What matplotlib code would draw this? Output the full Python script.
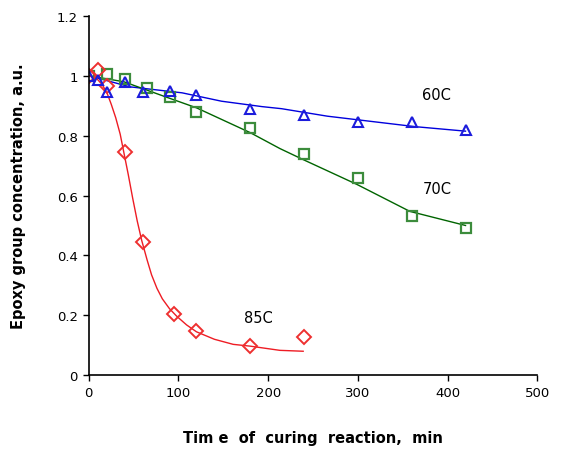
import matplotlib
matplotlib.use("Agg")
import matplotlib.pyplot as plt
from matplotlib.ticker import FuncFormatter

# measured points
t60 = [0, 10, 20, 40, 60, 90, 120, 180, 240, 300, 360, 420]
c60 = [1.0, 0.985, 0.945, 0.98, 0.945, 0.95, 0.935, 0.89, 0.87, 0.845, 0.845, 0.82]

t70 = [0, 20, 40, 65, 90, 120, 180, 240, 300, 360, 420]
c70 = [1.0, 1.007, 0.99, 0.96, 0.93, 0.88, 0.825, 0.74, 0.66, 0.53, 0.49]

t85 = [0, 10, 20, 40, 60, 95, 120, 180, 240]
c85 = [1.0, 1.02, 0.965, 0.745, 0.445, 0.205, 0.148, 0.097, 0.127]

# trend lines
fit60_t = [0, 46, 104, 148, 193, 215, 266, 364, 420]
fit60_c = [1.0, 0.963, 0.943, 0.915, 0.897, 0.89, 0.865, 0.83, 0.815]

fit70_t = [0, 39, 88, 120, 180, 213, 239, 299, 358, 420]
fit70_c = [1.0, 0.98, 0.927, 0.893, 0.81, 0.757, 0.72, 0.637, 0.547, 0.5]

fit85_t = [0, 9, 15, 20, 25, 30, 35, 39, 44, 49, 54, 59, 65, 70, 76, 82, 90, 98,
           109, 120, 140, 161, 180, 213, 239]
fit85_c = [1.0, 0.99, 0.97, 0.945, 0.905, 0.86, 0.805, 0.745, 0.67, 0.59, 0.515,
           0.45, 0.385, 0.335, 0.29, 0.255, 0.222, 0.197, 0.168, 0.145, 0.12,
           0.103, 0.097, 0.083, 0.08]

fig = plt.figure(figsize=(5.62, 4.56), dpi=100)
ax = fig.add_axes([0.158, 0.175, 0.798, 0.788])

ax.plot(fit60_t, fit60_c, color="#0000dd", lw=1.0)
ax.plot(fit70_t, fit70_c, color="#006400", lw=1.0)
ax.plot(fit85_t, fit85_c, color="#ee1c24", lw=1.0)

ax.plot(t70, c70, ls="none", marker="s", ms=7.5, mfc="none", mec="#3c8c3c", mew=1.6)
ax.plot(t85, c85, ls="none", marker="D", ms=7, mfc="none", mec="#ee3030", mew=1.4)
ax.plot(t60, c60, ls="none", marker="^", ms=7, mfc="none", mec="#1c1cdc", mew=1.5)

ax.text(388, 0.937, "60C", fontsize=10.5, ha="center", va="center")
ax.text(388, 0.623, "70C", fontsize=10.5, ha="center", va="center")
ax.text(189, 0.193, "85C", fontsize=10.5, ha="center", va="center")

ax.set_xlim(0, 500)
ax.set_ylim(0, 1.2)
ax.set_xticks([0, 100, 200, 300, 400, 500])
ax.set_yticks([0, 0.2, 0.4, 0.6, 0.8, 1.0, 1.2])
ax.yaxis.set_major_formatter(FuncFormatter(lambda v, p: "%g" % round(v, 2)))
ax.tick_params(labelsize=9.5, direction="out", length=4, width=1, pad=4)
for s in ["top", "right"]:
    ax.spines[s].set_visible(False)
for s in ["left", "bottom"]:
    ax.spines[s].set_linewidth(1.2)

ax.set_xlabel("Tim e  of  curing  reaction,  min", fontsize=10.5, fontweight="bold", labelpad=22)
ax.set_ylabel("Epoxy group concentration, a.u.", fontsize=10.5, fontweight="bold", labelpad=22)

fig.savefig("out.png", dpi=100)
